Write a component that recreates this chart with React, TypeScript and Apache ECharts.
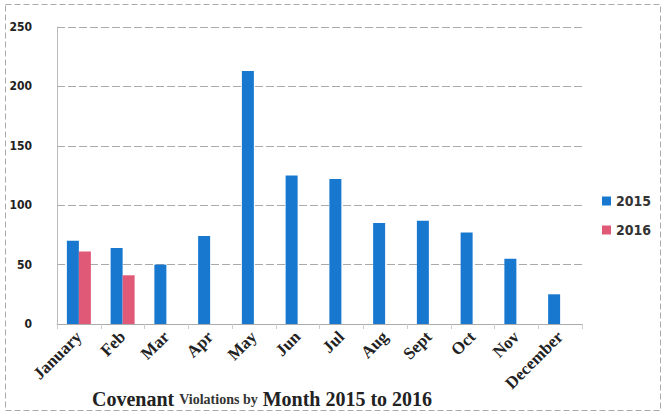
import React, { useEffect, useRef } from "react";
import * as echarts from "echarts";

const months = ["January", "Feb", "Mar", "Apr", "May", "Jun", "Jul", "Aug", "Sept", "Oct", "Nov", "December"];
const values2015 = [70, 64, 50, 74, 213, 125, 122, 85, 87, 77, 55, 25];
const values2016 = [61, 41, null, null, null, null, null, null, null, null, null, null];
const yTicks = [0, 50, 100, 150, 200, 250];

export default function App() {
  const ref = useRef<HTMLDivElement>(null);
  useEffect(() => {
    if (!ref.current) return;
    const chart = echarts.init(ref.current, null, { renderer: "svg" });
    chart.setOption({
      animation: false,
      backgroundColor: "#ffffff",
      grid: { left: 57, right: 84, top: 27, bottom: 92 },
      title: {
        text: "{a|Covenant }{b|Violations by}{a| Month 2015 to 2016}",
        left: 92,
        top: 389,
        padding: 0,
        textStyle: {
          rich: {
            a: { fontFamily: "Liberation Serif", fontWeight: "bold", fontSize: 20, color: "#222" },
            b: { fontFamily: "Liberation Serif", fontWeight: "bold", fontSize: 14, color: "#333" },
          },
        },
      },
      legend: {
        orient: "vertical",
        left: 597,
        top: 189,
        itemWidth: 9,
        itemHeight: 9,
        itemGap: 15,
        icon: "rect",
        textStyle: { fontFamily: "DejaVu Sans Condensed", fontWeight: "bold", fontSize: 14, color: "#333" },
        data: ["2015", "2016"],
      },
      xAxis: {
        type: "category",
        data: months,
        axisLine: { lineStyle: { color: "#aaa" } },
        axisTick: { show: true, lineStyle: { color: "#ccc" } },
        axisLabel: {
          rotate: 45,
          interval: 0,
          fontFamily: "Liberation Serif",
          fontWeight: "bold",
          fontSize: 17,
          color: "#222",
          margin: 10,
        },
      },
      yAxis: {
        type: "value",
        min: yTicks[0],
        max: yTicks[yTicks.length - 1],
        interval: 50,
        axisLine: { show: true, lineStyle: { color: "#bbb" } },
        axisTick: { show: false },
        splitLine: { lineStyle: { color: "#aaa", type: [8, 3] } },
        axisLabel: {
          fontFamily: "DejaVu Sans Condensed",
          fontWeight: "bold",
          fontSize: 12,
          color: "#222",
          margin: 25,
        },
      },
      series: [
        {
          name: "2015",
          type: "bar",
          data: values2015,
          barWidth: 12,
          barGap: "0%",
          itemStyle: { color: "#1878d0" },
        },
        {
          name: "2016",
          type: "bar",
          data: values2016,
          barWidth: 12,
          itemStyle: { color: "#e05a78" },
        },
      ],
      graphic: [
        {
          type: "rect",
          shape: { x: 5.5, y: 4.5, width: 655, height: 406 },
          style: { fill: "none", stroke: "#aaa", lineWidth: 1, lineDash: [6, 3] },
          silent: true,
        },
      ],
    });
    return () => chart.dispose();
  }, []);
  return <div ref={ref} style={{ width: 666, height: 416, position: "absolute", left: 0, top: 0 }} />;
}
